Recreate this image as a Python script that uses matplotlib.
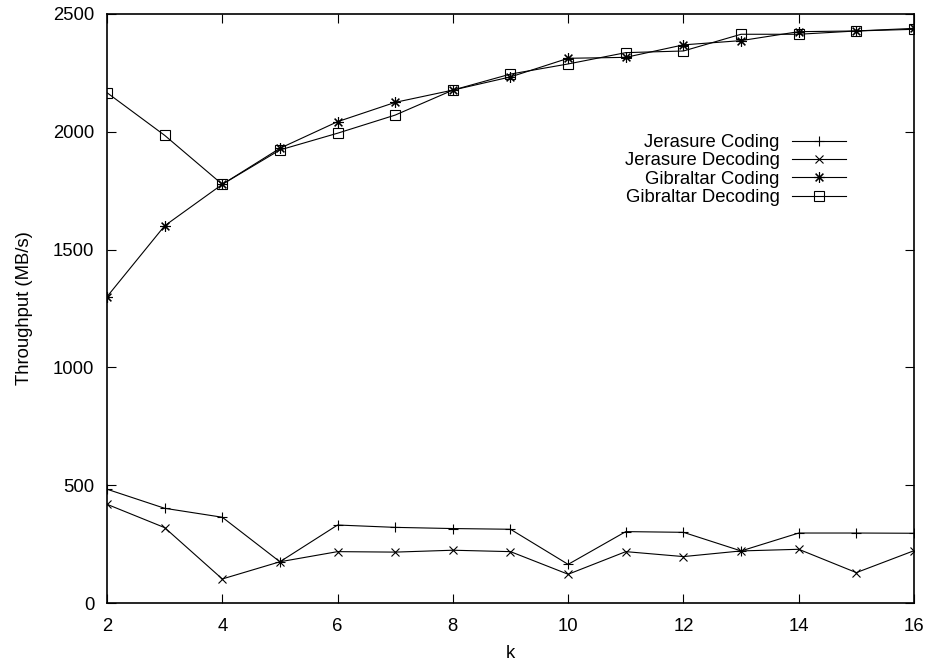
import matplotlib
matplotlib.use("Agg")
import matplotlib.pyplot as plt

plt.rcParams['font.family'] = ['Liberation Sans', 'DejaVu Sans']

k = [2, 3, 4, 5, 6, 7, 8, 9, 10, 11, 12, 13, 14, 15, 16]
jerasure_coding = [483, 402, 364, 175, 331, 321, 316, 313, 164, 303, 300, 221, 297, 297, 296]
jerasure_decoding = [419, 320, 102, 175, 218, 216, 224, 218, 122, 218, 197, 221, 228, 129, 222]
gibraltar_coding = [1300, 1601, 1777, 1930, 2043, 2125, 2177, 2233, 2312, 2316, 2369, 2387, 2425, 2428, 2439]
gibraltar_decoding = [2166, 1985, 1777, 1923, 1994, 2071, 2177, 2245, 2288, 2336, 2343, 2414, 2414, 2428, 2435]

x_ticks = [2, 4, 6, 8, 10, 12, 14, 16]
y_ticks = [0, 500, 1000, 1500, 2000, 2500]

fs = 13.3
fig = plt.figure(figsize=(9.33, 6.63), dpi=100)
ax = fig.add_axes([107/933, 1-603/663, (914-107)/933, (603-14)/663])

lw = 0.8
ms = 7
l1, = ax.plot(k, jerasure_coding, color='black', lw=lw, marker='+', ms=ms, mew=0.8,
              label='Jerasure Coding')
l2, = ax.plot(k, jerasure_decoding, color='black', lw=lw, marker='x', ms=ms*0.9, mew=0.8,
              label='Jerasure Decoding')
l3, = ax.plot(k, gibraltar_coding, color='black', lw=lw, marker=(8, 2, 0), ms=ms*1.1, mew=0.8,
              label='Gibraltar Coding')
l4, = ax.plot(k, gibraltar_decoding, color='black', lw=lw, marker='s', ms=ms*0.95, mew=0.8,
              mfc='none', label='Gibraltar Decoding')

ax.set_xlim(2, 16)
ax.set_ylim(0, 2500)
ax.set_xticks(x_ticks)
ax.set_yticks(y_ticks)
ax.tick_params(direction='in', length=6.5, width=0.8, top=True, right=True,
               labelsize=fs, colors='black')
ax.tick_params(axis='y', pad=9)
ax.tick_params(axis='x', pad=11)
for s in ax.spines.values():
    s.set_linewidth(1.2)

ax.set_xlabel('k', fontsize=fs)
ax.set_ylabel('Throughput (MB/s)', fontsize=fs)
ax.xaxis.set_label_coords(0.5, -(645-603)/589)
ax.yaxis.set_label_coords(-(107-33)/807, 0.5)

leg = ax.legend(handles=[l1, l2, l3, l4], loc='upper right',
                bbox_to_anchor=(846/933, 1-134/663), bbox_transform=fig.transFigure,
                frameon=False, markerfirst=False, fontsize=fs, handlelength=2.9,
                handletextpad=0.7, labelspacing=0.08, borderpad=0, borderaxespad=0)

fig.savefig('out.png', dpi=100)
